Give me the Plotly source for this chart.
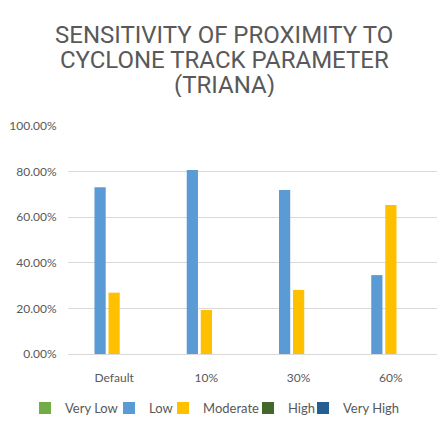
import plotly.graph_objects as go

categories = ['Default', '10%', '30%', '60%']
very_low = [0, 0, 0, 0]
low = [0.731, 0.807, 0.719, 0.346]
moderate = [0.269, 0.193, 0.281, 0.654]
high = [0, 0, 0, 0]
very_high = [0, 0, 0, 0]

title_lines = ['SENSITIVITY OF PROXIMITY TO', 'CYCLONE TRACK PARAMETER', '(TRIANA)']

series = [
    ('Very Low', very_low, '#70AD47', 39),
    ('Low', low, '#5B9BD5', 9),
    ('Moderate', moderate, '#FFC000', 40),
    ('High', high, '#43682B', 10),
    ('Very High', very_high, '#255E91', 56),
]

fig = go.Figure()
for name, vals, col, lw in series:
    fig.add_trace(go.Bar(x=categories, y=vals, name=name, marker_color=col,
                         marker_line_width=0, legendwidth=lw))

# title drawn line by line to get the tight line spacing of the original
for i, line in enumerate(title_lines):
    fig.add_annotation(text=line, xref='paper', yref='paper', x=0.4228, y=1.399 - 0.1096 * i,
                       xanchor='center', yanchor='middle', showarrow=False, height=24,
                       font=dict(size=24, color='#595959', family='Roboto'))

# page body has an 8px margin, so the figure is 8px smaller than the window
fig.update_layout(
    width=439, height=440,
    margin=dict(l=60, r=10, t=118, b=94),
    paper_bgcolor='white', plot_bgcolor='white',
    font=dict(family='Lato', color='#595959', size=12),
    barmode='group', bargap=0.24, bargroupgap=0.2,
    legend=dict(orientation='h', x=-0.1165, xanchor='left', y=-0.237, yanchor='middle',
                font=dict(size=13), itemwidth=30, traceorder='normal'),
    showlegend=True,
)
fig.update_xaxes(showline=True, linecolor='#D9D9D9', ticks='', ticklabelstandoff=13,
                 tickfont=dict(size=12), automargin=False)
fig.update_yaxes(range=[0, 1], dtick=0.2, tickformat='.2%', showgrid=True, gridcolor='#D9D9D9',
                 zeroline=False, ticks='outside', ticklen=8, tickcolor='white',
                 tickfont=dict(size=12), automargin=False)

fig.write_html('out.html')
